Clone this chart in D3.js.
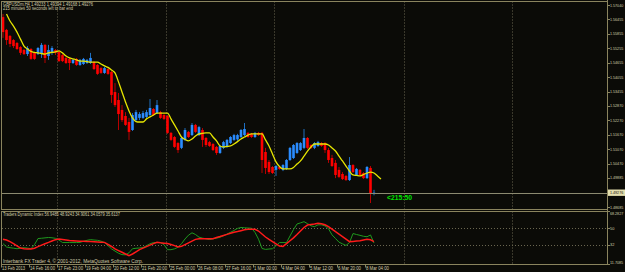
<!DOCTYPE html>
<html><head><meta charset="utf-8">
<script src="https://cdn.jsdelivr.net/npm/d3@7"></script>
<style>html,body{margin:0;padding:0;background:#0b0b07;overflow:hidden}svg{display:block}</style>
</head><body><svg id="c" width="625" height="272"></svg>
<script>
// ---- data (H4 bars, GBPUSD, 13 Feb 2013 08:00 .. 8 Mar 2013 12:00) ----
const opens=[1.5654,1.5601,1.5576,1.5559,1.5547,1.5530,1.5518,1.5501,1.5522,1.5506,
1.5501,1.5501,1.5539,1.5493,1.5506,1.5518,1.5510,1.5497,1.5485,1.5481,
1.5464,1.5481,1.5456,1.5460,1.5464,1.5464,1.5468,1.5456,1.5443,1.5423,
1.5439,1.5427,1.5344,1.5311,1.5270,1.5245,1.5220,1.5187,1.5228,1.5237,
1.5237,1.5241,1.5249,1.5274,1.5257,1.5261,1.5249,1.5245,1.5175,1.5158,
1.5133,1.5113,1.5146,1.5179,1.5166,1.5208,1.5166,1.5187,1.5154,1.5137,
1.5129,1.5117,1.5092,1.5113,1.5117,1.5133,1.5146,1.5148,1.5158,1.5166,
1.5175,1.5171,1.5158,1.5175,1.5175,1.5096,1.5055,1.5034,1.5022,1.5034,
1.5022,1.5026,1.5063,1.5071,1.5092,1.5104,1.5113,1.5154,1.5125,1.5113,
1.5121,1.5133,1.5133,1.5104,1.5071,1.5051,1.5022,1.5005,1.4997,1.4980,
1.5042,1.5001,1.5022,1.5009,1.4988,1.5030,1.49233];
const highs=[1.5667,1.5605,1.5580,1.5563,1.5551,1.5534,1.5522,1.5534,1.5526,1.5510,
1.5530,1.5547,1.5543,1.5539,1.5534,1.5522,1.5514,1.5501,1.5489,1.5485,
1.5481,1.5485,1.5481,1.5485,1.5481,1.5506,1.5472,1.5460,1.5448,1.5448,
1.5443,1.5431,1.5381,1.5340,1.5290,1.5261,1.5237,1.5257,1.5270,1.5261,
1.5266,1.5270,1.5315,1.5278,1.5311,1.5266,1.5253,1.5249,1.5179,1.5162,
1.5137,1.5158,1.5195,1.5183,1.5216,1.5212,1.5204,1.5195,1.5158,1.5142,
1.5133,1.5121,1.5125,1.5142,1.5150,1.5162,1.5171,1.5171,1.5191,1.5216,
1.5179,1.5175,1.5179,1.5179,1.5179,1.5113,1.5063,1.5038,1.5042,1.5038,
1.5046,1.5067,1.5117,1.5129,1.5137,1.5137,1.5191,1.5158,1.5129,1.5137,
1.5142,1.5137,1.5137,1.5113,1.5084,1.5063,1.5034,1.5013,1.5001,1.5075,
1.5046,1.5030,1.5026,1.5013,1.5038,1.5038,1.49394];
const lows=[1.5568,1.5539,1.5530,1.5526,1.5518,1.5497,1.5497,1.5493,1.5477,1.5477,
1.5497,1.5485,1.5464,1.5477,1.5497,1.5497,1.5468,1.5468,1.5460,1.5435,
1.5460,1.5452,1.5452,1.5456,1.5460,1.5460,1.5435,1.5415,1.5419,1.5419,
1.5415,1.5299,1.5282,1.5187,1.5220,1.5204,1.5146,1.5183,1.5220,1.5228,
1.5233,1.5237,1.5245,1.5245,1.5253,1.5233,1.5228,1.5171,1.5142,1.5113,
1.5092,1.5108,1.5142,1.5154,1.5162,1.5175,1.5162,1.5117,1.5117,1.5117,
1.5100,1.5084,1.5088,1.5108,1.5113,1.5129,1.5142,1.5142,1.5154,1.5162,
1.5154,1.5154,1.5154,1.5162,1.5009,1.5005,1.5005,1.5005,1.4997,1.5022,
1.5017,1.5022,1.5059,1.5067,1.5088,1.5100,1.5108,1.5108,1.5108,1.5108,
1.5117,1.5117,1.5092,1.5051,1.5034,1.4988,1.4988,1.4980,1.4976,1.4976,
1.5009,1.4997,1.4997,1.4984,1.4984,1.4885,1.49168];
const closes=[1.5592,1.5559,1.5543,1.5534,1.5522,1.5506,1.5501,1.5526,1.5481,1.5481,
1.5526,1.5539,1.5485,1.5518,1.5526,1.5506,1.5472,1.5472,1.5464,1.5464,
1.5477,1.5456,1.5477,1.5481,1.5477,1.5485,1.5439,1.5419,1.5423,1.5443,
1.5419,1.5332,1.5290,1.5253,1.5228,1.5208,1.5179,1.5249,1.5261,1.5253,
1.5257,1.5261,1.5278,1.5249,1.5290,1.5237,1.5233,1.5175,1.5146,1.5117,
1.5104,1.5154,1.5187,1.5158,1.5208,1.5179,1.5199,1.5146,1.5125,1.5121,
1.5104,1.5092,1.5121,1.5137,1.5146,1.5158,1.5166,1.5166,1.5187,1.5191,
1.5158,1.5158,1.5175,1.5166,1.5063,1.5030,1.5013,1.5009,1.5038,1.5026,
1.5042,1.5063,1.5113,1.5125,1.5133,1.5133,1.5154,1.5113,1.5113,1.5133,
1.5137,1.5121,1.5104,1.5063,1.5038,1.5001,1.4993,1.4984,1.4980,1.5042,
1.5013,1.5026,1.5001,1.4988,1.5034,1.4923,1.49276];
// shifted moving average (yellow), one value per bar position (extends 2 bars ahead)
const maLine=[null,1.5667,1.5638,1.5617,1.5592,1.5563,1.5534,1.5522,1.5512,1.5508,
1.5506,1.5503,1.5501,1.5506,1.5508,1.5510,1.5514,1.5506,1.5493,1.5485,
1.5481,1.5477,1.5472,1.5472,1.5470,1.5468,1.5468,1.5468,1.5460,1.5452,
1.5446,1.5435,1.5423,1.5386,1.5344,1.5303,1.5266,1.5237,1.5222,1.5220,
1.5220,1.5233,1.5241,1.5249,1.5257,1.5257,1.5257,1.5257,1.5233,1.5208,
1.5183,1.5158,1.5148,1.5142,1.5150,1.5162,1.5171,1.5173,1.5175,1.5175,
1.5158,1.5142,1.5121,1.5117,1.5119,1.5121,1.5129,1.5139,1.5150,1.5158,
1.5166,1.5171,1.5171,1.5171,1.5171,1.5146,1.5121,1.5088,1.5055,1.5036,
1.5026,1.5026,1.5026,1.5032,1.5046,1.5059,1.5079,1.5100,1.5117,1.5129,
1.5129,1.5129,1.5129,1.5125,1.5113,1.5100,1.5079,1.5059,1.5038,1.5017,
1.5001,1.4999,1.4997,1.5003,1.5009,1.5013,1.5009,1.4997,1.4984];
// Traders Dynamic Index: RSI price line (green) and trade signal line (red)
const tdiGreen=[33.5,29.9,29.1,28.6,28.0,28.6,29.1,28.7,28.0,32.4,
38.9,39.2,39.6,40.0,39.7,39.1,37.3,34.6,34.6,34.6,
34.6,34.6,34.8,35.9,37.0,37.7,37.3,37.0,36.1,34.6,
31.3,27.9,25.5,23.2,21.7,21.5,23.7,28.0,28.5,28.8,
29.3,31.3,33.3,34.6,34.6,34.6,32.4,27.0,27.0,27.9,
29.6,33.4,38.4,42.5,45.0,43.2,40.3,39.3,38.6,37.8,
38.6,39.3,40.2,41.9,43.7,45.5,47.5,49.7,50.7,50.4,
50.1,49.9,45.4,38.2,28.3,27.3,27.7,28.0,31.3,34.6,
34.6,34.6,41.6,48.5,54.4,55.6,56.9,54.8,52.5,51.6,
53.5,53.5,52.4,49.4,42.8,38.9,35.0,33.2,31.5,34.6,
44.2,43.2,42.3,41.3,40.8,42.7,34.06];
const tdiRed=[38.2,37.3,35.6,33.4,31.0,28.7,27.9,27.8,27.7,28.6,
30.2,31.9,33.4,34.8,36.3,37.7,38.3,37.8,37.3,36.7,
36.5,36.3,36.1,36.0,35.8,35.6,35.4,35.2,35.0,34.8,
32.6,30.4,27.9,26.0,24.2,22.4,20.6,22.4,24.7,27.0,
28.6,30.2,31.9,33.5,34.8,34.3,33.9,33.5,32.6,31.3,
30.0,30.6,32.4,34.2,36.2,38.0,38.6,38.6,38.6,38.6,
38.7,39.9,41.0,42.2,43.3,44.5,45.6,46.3,47.3,48.2,
48.7,48.7,48.7,46.9,43.7,40.5,37.9,35.5,33.1,30.8,
30.5,33.5,36.5,39.6,43.2,47.0,50.7,53.3,54.0,54.4,
55.1,54.7,53.6,51.6,49.0,46.2,43.6,40.9,38.2,35.6,
35.8,36.2,36.5,37.3,38.0,37.5,35.61];
const priceTicks=[1.57040,1.56455,1.55855,1.55255,1.54655,1.54055,1.53455,1.52870,1.52270,1.51670,1.51070,1.50470,1.49885,1.48685];
const currentPrice=1.49276;
const indTicks=[68.2827,50,32,11.7085];
const indTickLabels=["68.2827","50","32","11.7085"];
const indLevels=[50,32];
const dateLabels=["13 Feb 2013","14 Feb 16:00","17 Feb 23:00","19 Feb 04:00","20 Feb 12:00","21 Feb 20:00","25 Feb 00:00","26 Feb 08:00","27 Feb 16:00","1 Mar 00:00","4 Mar 04:00","5 Mar 12:00","6 Mar 20:00","8 Mar 04:00"];
const dateLabelBars=[0,8,16,24,32,40,48,56,64,72,80,88,96,104];
const separatorBars=[16,47,78,115,146];
const titleText="GBPUSDm,H4  1.49233 1.49394 1.49168 1.49276";
const timerText="215 minutes 50 seconds left to bar end";
const indTitle="Traders Dynamic Index 56.9485 48.9243 34.9061 34.0579 35.6137";
const copyright="Interbank FX Trader 4, \u00a9 2001-2012, MetaQuotes Software Corp.";
const countdown="<215:50";

// ---- drawing ----
const W=625,H=272, AX=607.5;
const MAIN={top:1.5,bottom:209.5}, IND={top:211.5,bottom:264.5};
const frame="#8a845e", textC="#d2ccaa", font="'Liberation Sans', Arial, sans-serif";
const svg=d3.select('#c');
svg.append('rect').attr('width',W).attr('height',H).attr('fill','#0b0b07');

const x=d3.scaleLinear().domain([0,106]).range([3,374]);
const y=d3.scaleLinear().domain([1.48685,1.57040]).range([207,5]);
const yi=d3.scaleLinear().domain([11.7085,68.2827]).range([264,211]);

const defs=svg.append('defs');
defs.append('clipPath').attr('id','cm').append('rect').attr('x',2).attr('y',2).attr('width',AX-2).attr('height',MAIN.bottom-2);
defs.append('clipPath').attr('id','ci').append('rect').attr('x',2).attr('y',IND.top+0.5).attr('width',AX-2).attr('height',IND.bottom-IND.top-1);

// separators (dotted verticals)
const sepG=svg.append('g');
separatorBars.forEach(b=>{
  const sx=Math.round(x(b)-1.75)+0.5;
  [[MAIN.top,MAIN.bottom],[IND.top,IND.bottom]].forEach(([a,bb])=>{
    sepG.append('line').attr('x1',sx).attr('x2',sx).attr('y1',a).attr('y2',bb)
      .attr('stroke','#6a6650').attr('stroke-width',1).attr('stroke-dasharray','1,2');
  });
});
// indicator level lines
indLevels.forEach(v=>{
  const ly=Math.round(yi(v))+0.5;
  svg.append('line').attr('x1',2).attr('x2',AX).attr('y1',ly).attr('y2',ly)
    .attr('stroke','#6a6650').attr('stroke-dasharray','1,2');
});

// candles
const gm=svg.append('g').attr('clip-path','url(#cm)');
const idx=d3.range(opens.length);
gm.selectAll('line.w').data(idx).join('line')
  .attr('x1',i=>x(i)).attr('x2',i=>x(i))
  .attr('y1',i=>y(highs[i])).attr('y2',i=>y(lows[i]))
  .attr('stroke',i=>closes[i]>=opens[i]?'#1f70c0':'#b80000').attr('stroke-width',1);
gm.selectAll('rect.b').data(idx).join('rect')
  .attr('x',i=>x(i)-1.3).attr('width',2.6)
  .attr('y',i=>y(Math.max(opens[i],closes[i])))
  .attr('height',i=>Math.max(1,Math.abs(y(opens[i])-y(closes[i]))))
  .attr('fill',i=>closes[i]>=opens[i]?'#2a8cff':'#ff0000');
// moving average
const maPts=maLine.map((v,i)=>[i,v]).filter(d=>d[1]!==null);
gm.append('path').datum(maPts)
  .attr('d',d3.line().x(d=>x(d[0])).y(d=>y(d[1])).curve(d3.curveMonotoneX))
  .attr('fill','none').attr('stroke','#e6e600').attr('stroke-width',1.3);

// current price line
const cpy=y(currentPrice);
svg.append('line').attr('x1',1.5).attr('x2',AX).attr('y1',Math.round(cpy)+0.5).attr('y2',Math.round(cpy)+0.5)
  .attr('stroke','#8c8a70').attr('stroke-width',1);

// indicator lines
const gi=svg.append('g').attr('clip-path','url(#ci)');
const iline=d3.line().x((d,i)=>x(i)).y(d=>yi(d));
gi.append('path').datum(tdiGreen).attr('d',iline).attr('fill','none').attr('stroke','#1f9a1f').attr('stroke-width',1);
gi.append('path').datum(tdiRed).attr('d',iline).attr('fill','none').attr('stroke','#ff1a1a').attr('stroke-width',1.5);

// frames
svg.append('rect').attr('x',1.5).attr('y',MAIN.top).attr('width',AX-1.5).attr('height',MAIN.bottom-MAIN.top)
  .attr('fill','none').attr('stroke',frame);
svg.append('rect').attr('x',1.5).attr('y',IND.top).attr('width',AX-1.5).attr('height',IND.bottom-IND.top)
  .attr('fill','none').attr('stroke',frame);
svg.append('line').attr('x1',AX).attr('x2',AX).attr('y1',0).attr('y2',IND.bottom).attr('stroke',frame);

function txt(s,tx,ty,size,len,opt={}){
  const t=svg.append('text').attr('x',tx).attr('y',ty).text(s)
    .attr('font-family',font).attr('font-size',size).attr('fill',opt.fill||textC)
    .attr('dominant-baseline','central');
  if(opt.bold) t.attr('font-weight','bold');
  if(len) t.attr('textLength',len).attr('lengthAdjust','spacingAndGlyphs');
  return t;
}

// price axis
priceTicks.forEach(v=>{
  const ty=y(v);
  svg.append('line').attr('x1',AX).attr('x2',AX+2.5).attr('y1',Math.round(ty)+0.5).attr('y2',Math.round(ty)+0.5).attr('stroke',frame);
  txt(d3.format('.5f')(v),610,ty,3.9,13.2);
});
// current price tag
svg.append('rect').attr('x',AX+0.5).attr('y',cpy-3.2).attr('width',W-AX).attr('height',6.4).attr('fill','#e4dfae');
txt(d3.format('.5f')(currentPrice),610,cpy,3.9,13.2,{fill:'#101008'});

// indicator axis
indTicks.forEach((v,i)=>{
  let ty=yi(v);
  if(i===0) ty=213.2; if(i===indTicks.length-1) ty=262.6;
  svg.append('line').attr('x1',AX).attr('x2',AX+2.5).attr('y1',Math.round(yi(v))+0.5).attr('y2',Math.round(yi(v))+0.5).attr('stroke',frame);
  const l=indTickLabels[i];
  txt(l,610,ty,3.9,l.length>3?13.2:null);
});

// time axis
dateLabels.forEach((s,i)=>{
  const tx=x(dateLabelBars[i])-2;
  svg.append('line').attr('x1',Math.round(tx)+0.5).attr('x2',Math.round(tx)+0.5).attr('y1',IND.bottom).attr('y2',IND.bottom+3).attr('stroke',frame);
  txt(s,tx+1,268.8,4.6,s.length>11?25:(s.length>10?23:22));
});

// texts
txt(titleText,3,4.8,4.6,90);
txt(timerText,3,8.9,4.6,70);
txt(indTitle,3,214.6,4.6,117);
txt(copyright,3,261.2,4.6,140);
txt(countdown,387,197,8,25,{fill:'#00e600',bold:true});
</script></body></html>
